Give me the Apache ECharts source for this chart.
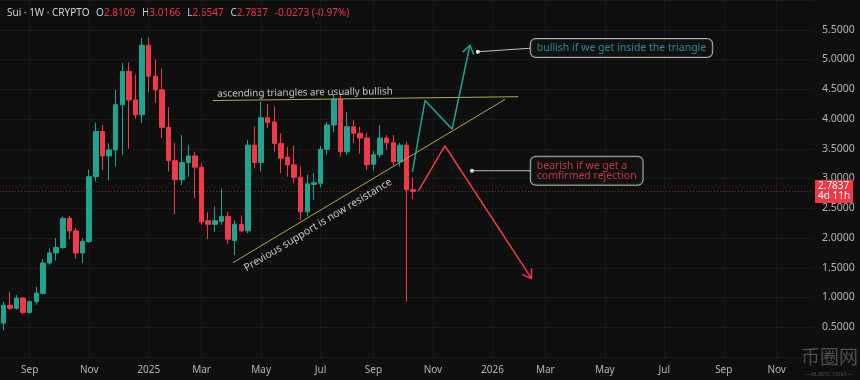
<!DOCTYPE html>
<html><head><meta charset="utf-8">
<script src="https://cdn.jsdelivr.net/npm/echarts@6/dist/echarts.min.js"></script>
<style>html,body{margin:0;padding:0;background:#0f0f0f;}#c{width:860px;height:380px;}</style>
</head><body><div id="c"></div><script>
// ---- data ----
const firstWeek = '2024-08-05';
const weekCount = 123; // visible weekly slots incl. future space
const monthNames = ['Jan','Feb','Mar','Apr','May','Jun','Jul','Aug','Sep','Oct','Nov','Dec'];
const openP  = [0.57,0.87,0.82,0.99,0.75,0.93,1.07,1.58,1.75,1.84,2.33,2.12,1.75,1.94,3.03,3.79,3.38,3.48,4.24,4.80,4.32,4.07,5.24,4.72,4.49,3.86,3.30,2.98,3.27,3.38,3.19,2.29,2.23,2.28,2.36,1.96,2.23,2.12,3.56,3.27,4.02,3.95,3.59,3.36,3.23,3.02,2.44,2.90,2.92,3.49,3.90,4.33,3.45,3.87,3.76,3.68,3.24,3.40,3.68,3.60,3.28,3.56,2.8109];
const highP  = [0.93,1.10,1.04,1.01,0.95,1.18,1.65,1.82,2.00,2.36,2.37,2.17,2.00,3.15,3.94,3.90,3.59,4.49,4.94,4.95,4.75,5.36,5.37,5.00,4.85,4.20,3.60,3.73,3.56,3.45,3.25,2.44,2.53,2.83,2.44,2.30,2.38,3.65,3.87,4.29,4.25,4.21,3.76,3.53,3.55,3.20,3.06,3.09,3.55,3.95,4.42,4.44,4.12,3.98,3.87,3.76,3.46,3.90,3.73,3.73,3.60,3.62,3.0166];
const lowP   = [0.45,0.79,0.80,0.72,0.73,0.88,1.05,1.55,1.62,1.82,1.98,1.65,1.58,1.92,2.95,3.14,2.97,3.20,3.40,3.50,4.00,3.93,4.45,4.27,3.68,3.12,2.40,2.89,3.03,2.67,2.22,1.98,2.10,2.22,1.90,1.71,2.10,2.08,3.17,3.12,3.85,3.45,3.09,3.03,2.92,2.30,2.36,2.64,2.85,3.40,3.78,3.37,3.40,3.60,3.42,3.14,3.13,3.35,3.48,3.22,3.20,0.93,2.6547];
const closeP = [0.87,0.82,0.99,0.75,0.93,1.07,1.58,1.75,1.84,2.33,2.12,1.75,1.94,3.03,3.79,3.38,3.48,4.24,4.80,4.32,4.07,5.24,4.72,4.49,3.86,3.30,2.98,3.27,3.38,3.19,2.27,2.23,2.29,2.36,1.98,2.23,2.12,3.56,3.27,4.02,3.94,3.59,3.34,3.23,3.02,2.44,2.91,2.93,3.49,3.90,4.33,3.45,3.87,3.76,3.68,3.23,3.40,3.68,3.60,3.28,3.56,2.811,2.7837];
const countdown = '4d 11h';
const yTicks = {min: 0, max: 6, step: 0.5};

// annotation geometry in (week index, price) units
const resistanceLine = [[31.7,4.31],[77.9,4.375]];
const supportLine    = [[34.75,1.585],[75.9,4.33]];
const bullPath = [[61.9,3.11],[63.8,4.31],[67.9,3.83],[70.6,5.24]];
const bearPath = [[62.8,2.79],[66.8,3.55],[79.9,1.32]];
const bullConnector = [[71.8,5.13],[79.8,5.19]];
const bearConnector = [[70.9,3.13],[79.8,3.13]];
const notes = [
  {pos:[45.64,4.442], text:'ascending triangles are usually bullish', rotate:0.8, size:9.8},
  {pos:[47.6,2.218], text:'Previous support is now resistance', rotate:31, size:10.5}
];
const callouts = [
  {pos:[79.8,5.193], text:'bullish if we get inside the triangle', color:'#2aa8b8'},
  {pos:[79.8,3.129], text:'bearish if we get a\ncomfirmed rejection', color:'#f0404c'}
];

// ---- build ----
const UP = '#22a38f', DOWN = '#f03a4a', TRI = '#aea85a';
const FONT = "'Noto Sans', sans-serif";
const weeks = [];
{
  const d0 = new Date(firstWeek + 'T00:00:00Z');
  for (let i = 0; i < weekCount; i++) {
    const d = new Date(d0.getTime() + i * 7 * 86400000);
    weeks.push(d.toISOString().slice(0, 10));
  }
}
function isLabelWeek(idx) {
  const v = weeks[idx];
  const m = +v.slice(5, 7), day = +v.slice(8, 10);
  return day <= 7 && m % 2 === 1;
}
function labelText(v) {
  const m = +v.slice(5, 7);
  return m === 1 ? v.slice(0, 4) : monthNames[m - 1];
}
const candles = openP.map((o, i) => [o, closeP[i], lowP[i], highP[i]]);
const n = closeP.length;
const last = closeP[n - 1];
const chg = last - closeP[n - 2];
const pct = chg / closeP[n - 2] * 100;

function renderArrow(params, api) {
  const from = api.coord([api.value(0), api.value(1)]);
  const tip = api.coord([api.value(2), api.value(3)]);
  const ang = Math.atan2(tip[1] - from[1], tip[0] - from[0]);
  const L = 10, s = 0.6;
  const w1 = [tip[0] - L * Math.cos(ang - s), tip[1] - L * Math.sin(ang - s)];
  const w2 = [tip[0] - L * Math.cos(ang + s), tip[1] - L * Math.sin(ang + s)];
  return {type: 'polyline', shape: {points: [w1, tip, w2]},
          style: {stroke: api.visual('color'), lineWidth: 1.5, fill: null}};
}
function lineSeries(pts, color, width) {
  return {type: 'line', xAxisIndex: 1, data: pts, symbol: 'none', silent: true,
          lineStyle: {color: color, width: width}, z: 5};
}
function connector(pts) {
  return {type: 'line', xAxisIndex: 1, silent: true, z: 6,
          data: [{value: pts[0], symbol: 'circle', symbolSize: 4}, {value: pts[1], symbol: 'none'}],
          itemStyle: {color: '#e8e8e8'}, lineStyle: {color: '#bdbdbd', width: 1}};
}

const chart = echarts.init(document.getElementById('c'));
chart.setOption({
  animation: false,
  backgroundColor: '#0f0f0f',
  textStyle: {fontFamily: FONT},
  grid: {left: 0, right: 47, top: 0, bottom: 23},
  xAxis: [{
    type: 'category', data: weeks, boundaryGap: true,
    axisLine: {show: false}, axisTick: {show: false},
    axisLabel: {interval: (i) => isLabelWeek(i), formatter: labelText, color: '#b2b5be', fontSize: 10, margin: 8, fontFamily: FONT},
    splitLine: {show: true, interval: (i) => isLabelWeek(i), alignWithLabel: true, lineStyle: {color: '#1a1a1a', width: 1}}
  }, {
    type: 'value', min: -0.5, max: weekCount - 0.5, show: false
  }],
  yAxis: {
    type: 'value', position: 'right', min: yTicks.min, max: yTicks.max, interval: yTicks.step,
    axisLine: {show: false}, axisTick: {show: false},
    axisLabel: {showMinLabel: false, showMaxLabel: false, formatter: (v) => v.toFixed(4), color: '#b2b5be', fontSize: 10.5, margin: 9, fontFamily: FONT},
    splitLine: {lineStyle: {color: '#1a1a1a', width: 1}}
  },
  series: [
    {
      type: 'candlestick', data: candles, barWidth: 5,
      itemStyle: {color: UP, color0: DOWN, borderColor: UP, borderColor0: DOWN, borderWidth: 1},
      markLine: {
        symbol: 'none', silent: true,
        data: [{yAxis: last}],
        lineStyle: {color: 'rgba(240,58,74,0.55)', type: [1, 2], width: 1},
        label: {position: 'end', distance: 2, formatter: () => last.toFixed(4) + '\n' + countdown,
                backgroundColor: '#f23645', color: '#ffffff', padding: [2, 3, 1, 3], fontSize: 10, lineHeight: 10, fontFamily: FONT}
      }
    },
    lineSeries(resistanceLine, TRI, 1),
    lineSeries(supportLine, TRI, 1),
    lineSeries(bullPath, UP, 1.5),
    lineSeries(bearPath, DOWN, 1.5),
    {
      type: 'custom', xAxisIndex: 1, renderItem: renderArrow, silent: true, z: 5, clip: false,
      data: [
        {value: bullPath[bullPath.length - 2].concat(bullPath[bullPath.length - 1]), itemStyle: {color: UP}},
        {value: bearPath[bearPath.length - 2].concat(bearPath[bearPath.length - 1]), itemStyle: {color: DOWN}}
      ]
    },
    connector(bullConnector),
    connector(bearConnector),
    {
      type: 'scatter', xAxisIndex: 1, symbolSize: 0, silent: true, z: 7,
      data: notes.map(t => ({value: t.pos, label: {formatter: t.text, rotate: t.rotate, fontSize: t.size}})),
      label: {show: true, position: 'inside', color: '#ececec', fontSize: 10.5, fontFamily: FONT}
    },
    {
      type: 'scatter', xAxisIndex: 1, symbolSize: 0, silent: true, z: 8,
      data: callouts.map(c => ({value: c.pos, label: {formatter: c.text, color: c.color}})),
      label: {show: true, position: 'right', distance: 0, fontSize: 10.5, lineHeight: 10, fontFamily: FONT,
              backgroundColor: '#111111', borderColor: '#d8d8d8', borderWidth: 1, borderRadius: 5, padding: [4, 6, 4, 6]}
    }
  ],
  graphic: [
    {
      type: 'text', left: 7, top: 7, silent: true,
      style: {
        text: '{a|Sui · 1W · CRYPTO}  {k|O}{v|' + openP[n-1].toFixed(4) + '}  {k|H}{v|' + highP[n-1].toFixed(4) +
              '}  {k|L}{v|' + lowP[n-1].toFixed(4) + '}  {k|C}{v|' + last.toFixed(4) + '}  {v|' +
              chg.toFixed(4) + ' (' + pct.toFixed(2) + '%)}',
        rich: {
          a: {fill: '#d1d4dc', fontSize: 10, fontFamily: FONT},
          k: {fill: '#c9ccd4', fontSize: 10, fontFamily: FONT},
          v: {fill: '#f23645', fontSize: 10, fontFamily: FONT}
        }
      }
    },
    {type: 'text', right: 2, bottom: 14, silent: true,
     style: {text: '币圈网', fill: 'rgba(150,150,150,0.45)', fontSize: 19, fontFamily: "'Noto Sans CJK SC', sans-serif"}},
    {type: 'text', right: 8, bottom: 3, silent: true,
     style: {text: '—ALIBTC.COM—', fill: 'rgba(150,150,150,0.45)', fontSize: 6, fontFamily: FONT}}
  ]
});
</script></body></html>
